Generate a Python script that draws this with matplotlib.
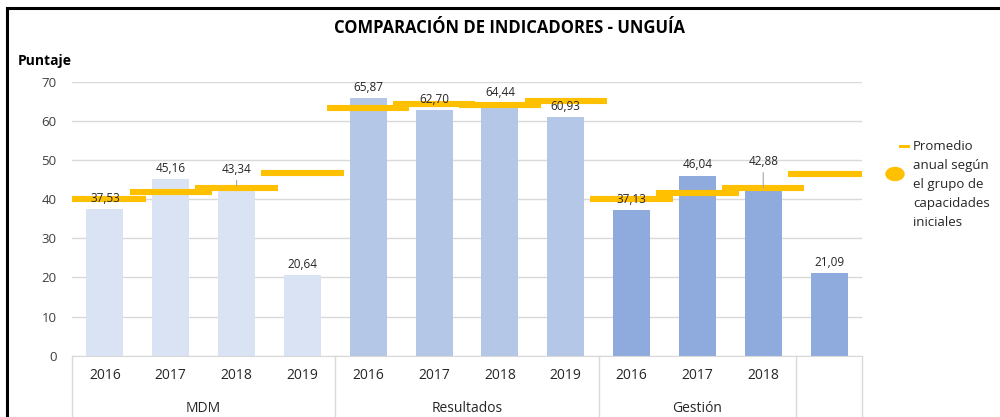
import matplotlib
matplotlib.use("Agg")
import matplotlib.pyplot as plt
from matplotlib.patches import Rectangle, Ellipse
from matplotlib.lines import Line2D
import numpy as np

# ---- data ----
years = ["2016", "2017", "2018", "2019",
         "2016", "2017", "2018", "2019",
         "2016", "2017", "2018", ""]
groups = ["MDM", "Resultados", "Gestión", ""]
group_sizes = [4, 4, 3, 1]

mdm = [37.53, 45.16, 43.34, 20.64]
resultados = [65.87, 62.70, 64.44, 60.93]
gestion = [37.13, 46.04, 42.88, 21.09]

promedio_mdm = [40.0, 41.9, 42.8, 46.6]
promedio_res = [63.2, 64.4, 64.1, 65.0]
promedio_ges = [40.0, 41.6, 42.8, 46.3]

values = mdm + resultados + gestion
promedio = promedio_mdm + promedio_res + promedio_ges
colors = ["#DAE3F3"] * 4 + ["#B4C7E7"] * 4 + ["#8FAADC"] * 4

# label lift in points (two labels were moved up by hand in the original)
label_lift = [3, 3, 7, 3, 3, 3, 3, 3, 3, 3, 14, 3]

plt.rcParams["font.family"] = ["Open Sans", "DejaVu Sans"]

fig = plt.figure(figsize=(10, 4.17), dpi=100)
ax = fig.add_axes([0.072, 0.147, 0.790, 0.657])

x = np.arange(len(values))
ax.bar(x, values, width=0.56, color=colors, zorder=2)

# yellow average dashes
ax.hlines(promedio, x - 0.625, x + 0.625, colors="#FFC000", lw=4.4, zorder=4)

# data labels (drawn over the yellow dashes)
for xi, v, lift in zip(x, values, label_lift):
    txt = f"{v:.2f}".replace(".", ",")
    if lift > 4:
        ax.annotate(txt, xy=(xi, v), xytext=(0, lift), textcoords="offset points",
                    ha="center", va="bottom", fontsize=8.5, color="#262626", zorder=5,
                    arrowprops=dict(arrowstyle="-", color="#A6A6A6", lw=0.8,
                                    shrinkA=1, shrinkB=0))
    else:
        ax.annotate(txt, xy=(xi, v), xytext=(0, lift), textcoords="offset points",
                    ha="center", va="bottom", fontsize=8.5, color="#262626", zorder=5)

ax.set_xlim(-0.5, len(values) - 0.5)
ax.set_ylim(0, 70)
ax.set_yticks(range(0, 71, 10))
ax.tick_params(axis="y", length=0, pad=11, labelsize=9.5, labelcolor="#404040")
ax.set_xticks(x)
ax.set_xticklabels(years)
ax.tick_params(axis="x", length=0, pad=9, labelsize=10, labelcolor="#262626")
ax.grid(axis="y", color="#D9D9D9", lw=1, zorder=0)
ax.set_axisbelow(True)
for s in ["top", "right", "left"]:
    ax.spines[s].set_visible(False)
ax.spines["bottom"].set_color("#D9D9D9")

# group labels and separators below the axis
trans = ax.get_xaxis_transform()
start = -0.5
ax.plot([start, start], [0, -0.35], transform=trans, color="#D9D9D9", lw=1, clip_on=False)
for name, n in zip(groups, group_sizes):
    end = start + n
    ax.plot([end, end], [0, -0.35], transform=trans, color="#D9D9D9", lw=1, clip_on=False)
    ax.text((start + end) / 2, -0.193, name, transform=trans, ha="center", va="center",
            fontsize=10, color="#262626")
    start = end

# titles
fig.text(0.51, 1 - 28 / 417, "COMPARACIÓN DE INDICADORES - UNGUÍA", ha="center", va="center",
         fontsize=12, fontweight="bold", color="black")
fig.text(0.018, 1 - 61 / 417, "Puntaje", ha="left", va="center", fontsize=10,
         fontweight="bold", color="black")

# legend (drawn by hand like the Excel one)
fig.add_artist(Line2D([0.900, 0.908], [1 - 146 / 417] * 2, transform=fig.transFigure,
                      color="#FFC000", lw=2.2))
fig.add_artist(Ellipse((0.895, 1 - 174 / 417), 0.018, 13 / 417, transform=fig.transFigure,
                       color="#FFC000"))
fig.text(0.913, 1 - 140 / 417, "Promedio\nanual según\nel grupo de\ncapacidades\niniciales",
         ha="left", va="top", fontsize=9.5, color="#262626", linespacing=1.6)

# outer frame of the chart object
fig.add_artist(Rectangle((0.007, -0.1), 1.1, 1.1 - 8 / 417,
                         transform=fig.transFigure, fill=False, edgecolor="black", lw=2.2))

fig.savefig("out.png", dpi=100)
